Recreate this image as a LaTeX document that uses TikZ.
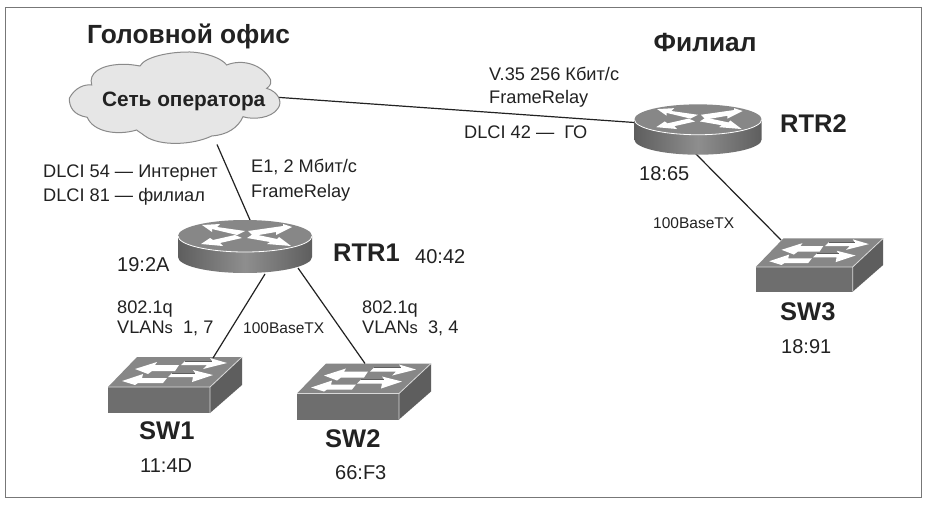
\documentclass[tikz,border=0pt]{standalone}
\usepackage{fontspec}
\setmainfont{Liberation Sans}
\definecolor{ink}{HTML}{222222}
\definecolor{frameline}{HTML}{777777}
\definecolor{clfill}{HTML}{E6E6E6}
\definecolor{clline}{HTML}{8A8A8A}
\definecolor{topface}{HTML}{878787}
\definecolor{sidedark}{HTML}{5E5E5E}
\definecolor{sidelight}{HTML}{8E8E8E}
\tikzset{
  lbl/.style={anchor=base west,inner sep=0pt,text=ink,font=\fontsize{18.2}{21}\selectfont},
  small/.style={lbl,font=\fontsize{15.5}{18}\selectfont},
  addr/.style={lbl,font=\fontsize{20}{23}\selectfont},
  devname/.style={lbl,font=\fontsize{25.5}{30}\selectfont\bfseries},
  titlefont/.style={lbl,font=\fontsize{26.3}{30}\selectfont\bfseries},
  link/.style={draw=ink,line width=1.2pt},
  port/.style={inner sep=0pt,outer sep=0pt,draw=none},
  routerport/.style={port,minimum width=134pt,minimum height=54pt},
  switchport/.style={port,minimum width=134pt,minimum height=56pt},
  arrowfill/.style={fill=white,draw=none},
  routericon/.pic={
    \shade[left color=sidedark,right color=sidedark,middle color=sidelight]
      (-67,-11) -- (-67,10) arc[start angle=180,end angle=0,x radius=67,y radius=16] -- (67,-11) -- cycle;
    \fill[topface] (0,-11) ellipse[x radius=67,y radius=16];
    \draw[white,line width=.8pt] (-67,-11) arc[start angle=180,end angle=0,x radius=67,y radius=16];
    \fill[arrowfill] (-43,-22) -- (-25,-23) -- (-28,-20) -- (0,-16) -- (-8,-12) -- (-33,-18) -- (-33,-15) -- cycle;
    \fill[arrowfill] (47,-20) -- (38,-23) -- (38,-21) -- (3,-16) -- (8,-11) -- (31,-15) -- (31,-12) -- cycle;
    \fill[arrowfill] (-44,-3) -- (-35,-9) -- (-32,-7) -- (-10,-12) -- (-3,-9) -- (-25,-4) -- (-22,-1) -- cycle;
    \fill[arrowfill] (46,-1) -- (22,-3) -- (25,-5) -- (2,-9) -- (8,-13) -- (32,-8) -- (34,-10) -- cycle;
  },
  switchicon/.pic={
    \fill[sidedark!90!white] (-67,2) rectangle (35,28);
    \fill[sidedark] (35,2) -- (67,-28) -- (67,0) -- (35,28) -- cycle;
    \fill[topface] (-67,2) -- (-38,-28) -- (67,-28) -- (35,2) -- cycle;
    \draw[white!85!black,line width=.8pt] (-67,2) -- (35,2) -- (35,28) (35,2) -- (67,-28);
    \fill[arrowfill] (-40,-16) -- (-18,-23) -- (-20,-20) -- (4,-20) -- (0,-14) -- (-23,-14) -- (-27,-11) -- cycle;
    \fill[arrowfill] (52,-22) -- (35,-27) -- (37,-24) -- (10,-24) -- (6,-20) -- (32,-20) -- (28,-16) -- cycle;
    \fill[arrowfill] (-53,-4) -- (-32,-11) -- (-33,-7) -- (-8,-7) -- (-12,-2) -- (-37,-2) -- (-40,0) -- cycle;
    \fill[arrowfill] (38,-10) -- (18,-15) -- (20,-12) -- (-3,-12) -- (-7,-8) -- (18,-8) -- (17,-3) -- cycle;
    \draw[sidedark,line width=.4pt] (10,-24) -- (37,-24) (-3,-12) -- (20,-12);
  }
}
\begin{document}
\begin{tikzpicture}[x=1pt,y=-1pt]
\useasboundingbox (0,0) rectangle (928,505);
\fill[white] (0,0) rectangle (928,505);
\draw[frameline,line width=1pt] (5,8) rectangle (921,497);

\node[port,minimum width=212pt,minimum height=89pt] (cloud) at (174,97) {};
\node[routerport] (rtr1) at (245,247) {};
\node[routerport] (rtr2) at (698,130) {};
\node[switchport] (sw1) at (175,385) {};
\node[switchport] (sw2) at (364,391.5) {};
\node[switchport] (sw3) at (819.5,265) {};

\pic at (175,385) {switchicon};
\pic at (364,391.5) {switchicon};
\pic[scale=.95] at (819.5,265) {switchicon};

\draw[link] ([yshift=7pt]cloud.center) -- ([yshift=3pt]rtr2.center);
\draw[link] ([xshift=43pt,yshift=-3pt]cloud.south) -- ([xshift=5pt]rtr1.north);
\draw[link] ([xshift=20pt]rtr1.south) -- ([xshift=38pt,yshift=-1pt]sw1.north);
\draw[link] ([xshift=53pt,yshift=6pt]rtr1.south) -- ([xshift=1pt]sw2.north);
\draw[link] ([xshift=-3pt,yshift=4pt]rtr2.south) -- ([xshift=-38.5pt,yshift=-3pt]sw3.north);

\pic at (245,247) {routericon};
\pic[scale=.95] at (698,130) {routericon};

\draw[clline,fill=clfill,line width=1pt]
  (69.3,98.3) .. controls (75,87.3) and (85,84) .. (91.7,85)
  .. controls (88.3,73.3) and (100,65) .. (121.7,64.3)
  .. controls (128,64) and (134,65) .. (140,66)
  .. controls (145,56.7) and (170,51.7) .. (190,52)
  .. controls (206.7,52.7) and (221.7,58.3) .. (226.7,65)
  .. controls (243,58.3) and (263,65) .. (270.7,80)
  .. controls (271.7,85) and (268,87.3) .. (266.7,88.3)
  .. controls (278,91.7) and (283,101.7) .. (278,108.3)
  .. controls (271.7,118.3) and (253,120) .. (243,116.7)
  .. controls (238,128) and (226.7,135) .. (211.7,136)
  .. controls (193,145) and (160,146.7) .. (145,136)
  .. controls (141.7,133.3) and (138.3,131.7) .. (136.7,130)
  .. controls (116.7,136) and (93,131.7) .. (87.3,117.3)
  .. controls (73,115) and (69.3,106.7) .. (69.3,98.3) -- cycle;

\node[lbl,font=\fontsize{20.8}{24}\selectfont\bfseries] (cloudtext) at (102,107) {Сеть оператора};

\node[titlefont] (title1) at (87,44) {Головной офис};
\node[titlefont] (title2) at (653.5,52) {Филиал};

\node[lbl] (t1) at (489,81) {V.35 256 Кбит/с};
\node[lbl] (t2) at (489,104) {FrameRelay};
\node[lbl] (t3) at (464,139) {DLCI 42 —\ \ ГО};
\node[devname] (nrtr2) at (780,133) {RTR2};
\node[addr] (a1) at (639,181) {18:65};
\node[small] (t4) at (653,228) {100BaseTX};
\node[devname] (nsw3) at (780,320) {SW3};
\node[addr] (a2) at (781,353) {18:91};

\node[lbl] (t5) at (43,178) {DLCI 54 — Интернет};
\node[lbl] (t6) at (43,201) {DLCI 81 — филиал};
\node[lbl] (t7) at (251,173) {E1, 2 Мбит/с};
\node[lbl] (t8) at (251,197) {FrameRelay};
\node[devname] (nrtr1) at (333,261) {RTR1};
\node[addr] (a3) at (415,263) {40:42};
\node[addr] (a4) at (117,271) {19:2A};
\node[lbl] (t9) at (117,313) {802.1q};
\node[lbl] (t10) at (117,333) {VLAN{\fontsize{16.5}{18}\selectfont s}\ \ 1, 7};
\node[small] (t11) at (243,333) {100BaseTX};
\node[lbl] (t12) at (362,313) {802.1q};
\node[lbl] (t13) at (362,333) {VLAN{\fontsize{16.5}{18}\selectfont s}\ \ 3, 4};
\node[devname] (nsw1) at (139,439) {SW1};
\node[addr] (a5) at (140,472) {11:4D};
\node[devname] (nsw2) at (325,447) {SW2};
\node[addr] (a6) at (335,479) {66:F3};
\end{tikzpicture}
\end{document}
